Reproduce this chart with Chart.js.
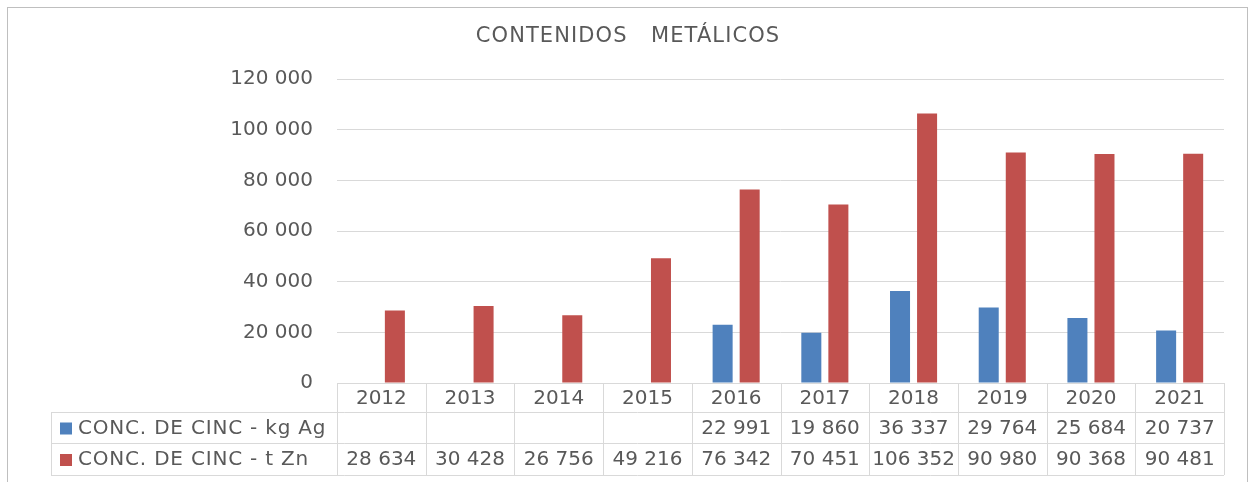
<!DOCTYPE html>
<html>
<head>
<meta charset="utf-8">
<script src="https://cdn.jsdelivr.net/npm/chart.js@4"></script>
<style>
  html, body { margin: 0; padding: 0; background: #fff; }
  #wrap { position: relative; width: 1251px; height: 482px; }
</style>
</head>
<body>
<div id="wrap"><canvas id="chart" width="1251" height="482"></canvas></div>
<script>
// Datos del gráfico
const years = ['2012', '2013', '2014', '2015', '2016', '2017', '2018', '2019', '2020', '2021'];
const seriesNames = ['CONC. DE CINC - kg Ag', 'CONC. DE CINC - t Zn'];
const agValues = [null, null, null, null, 22991, 19860, 36337, 29764, 25684, 20737];
const znValues = [28634, 30428, 26756, 49216, 76342, 70451, 106352, 90980, 90368, 90481];
const yTicks = [0, 20000, 40000, 60000, 80000, 100000, 120000];

const colors = {
    ag: '#4F81BD',
    zn: '#C0504D',
    text: '#595959',
    grid: '#D9D9D9'
};
const font = '"DejaVu Sans", Verdana, sans-serif';

function formatNumber(n) {
    return String(n).replace(/\B(?=(\d{3})+(?!\d))/g, ' ');
}

// Marco, título y tabla de datos bajo el eje
const tablePlugin = {
    id: 'dataTable',
    afterDraw(chart) {
        const ctx = chart.ctx;
        const area = chart.chartArea;
        const x = chart.scales.x;
        const colW = (area.right - area.left) / years.length;
        const rowTop = [area.bottom, area.bottom + 29, area.bottom + 60, area.bottom + 92];
        const labelLeft = 51;

        ctx.save();
        // marco exterior
        ctx.strokeStyle = '#BFBFBF';
        ctx.lineWidth = 1;
        ctx.strokeRect(7.5, 7.5, 1240, 490);

        // título
        ctx.fillStyle = colors.text;
        ctx.font = '21px ' + font;
        ctx.letterSpacing = '1.1px';
        ctx.textAlign = 'center';
        ctx.textBaseline = 'middle';
        ctx.fillText('CONTENIDOS   METÁLICOS', 628, 37);
        ctx.letterSpacing = '0px';

        // líneas de la tabla
        ctx.strokeStyle = colors.grid;
        ctx.beginPath();
        ctx.moveTo(area.left, rowTop[0] + 0.5);
        ctx.lineTo(area.right, rowTop[0] + 0.5);
        for (let r = 1; r < rowTop.length; r++) {
            ctx.moveTo(labelLeft, rowTop[r] + 0.5);
            ctx.lineTo(area.right, rowTop[r] + 0.5);
        }
        ctx.moveTo(labelLeft + 0.5, rowTop[1]);
        ctx.lineTo(labelLeft + 0.5, rowTop[3]);
        for (let i = 0; i <= years.length; i++) {
            const px = Math.round(area.left + i * colW) + 0.5;
            ctx.moveTo(px, rowTop[0]);
            ctx.lineTo(px, rowTop[3]);
        }
        ctx.stroke();

        // textos
        ctx.fillStyle = colors.text;
        ctx.font = '20px ' + font;
        ctx.textAlign = 'center';
        const rows = [agValues, znValues];
        years.forEach((yr, i) => {
            const cx = x.getPixelForValue(i);
            ctx.fillText(yr, cx, (rowTop[0] + rowTop[1]) / 2 + 1);
            rows.forEach((vals, r) => {
                if (vals[i] !== null) {
                    ctx.fillText(formatNumber(vals[i]), cx, (rowTop[r + 1] + rowTop[r + 2]) / 2 + 1);
                }
            });
        });

        // leyenda en la tabla
        ctx.textAlign = 'left';
        ctx.letterSpacing = '0.8px';
        const legendColors = [colors.ag, colors.zn];
        seriesNames.forEach((name, r) => {
            const cy = (rowTop[r + 1] + rowTop[r + 2]) / 2;
            ctx.fillStyle = legendColors[r];
            ctx.fillRect(60, cy - 5, 12, 12);
            ctx.fillStyle = colors.text;
            ctx.fillText(name, 78, cy + 1);
        });
        ctx.restore();
    }
};

const ctx1 = document.getElementById('chart').getContext('2d');
const chart = new Chart(ctx1, {
    type: 'bar',
    data: {
        labels: years,
        datasets: [
            {
                label: seriesNames[0],
                data: agValues,
                backgroundColor: colors.ag,
                categoryPercentage: 0.61,
                barPercentage: 0.74
            },
            {
                label: seriesNames[1],
                data: znValues,
                backgroundColor: colors.zn,
                categoryPercentage: 0.61,
                barPercentage: 0.74
            }
        ]
    },
    options: {
        responsive: false,
        animation: false,
        layout: {
            padding: { top: 79, bottom: 99, right: 27, left: 0 }
        },
        scales: {
            x: {
                display: false
            },
            y: {
                min: 0,
                max: 120000,
                afterFit: function (scale) { scale.width = 337; },
                afterBuildTicks: function (scale) {
                    scale.ticks = yTicks.map(v => ({ value: v }));
                },
                border: { display: false },
                grid: { color: colors.grid, drawTicks: false, lineWidth: 1 },
                ticks: {
                    padding: 24,
                    color: colors.text,
                    font: { family: font, size: 20 },
                    callback: v => formatNumber(v)
                }
            }
        },
        plugins: {
            legend: { display: false },
            title: { display: false },
            tooltip: { enabled: false }
        }
    },
    plugins: [tablePlugin]
});
</script>
</body>
</html>
